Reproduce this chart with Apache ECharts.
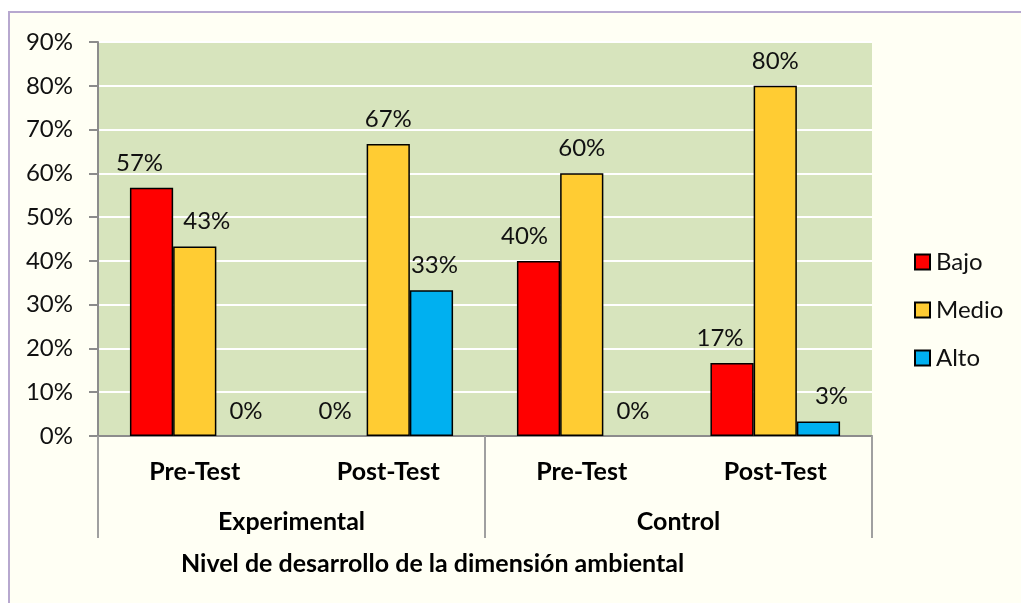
<!DOCTYPE html>
<html>
<head>
<meta charset="utf-8">
<script src="https://cdn.jsdelivr.net/npm/echarts@6/dist/echarts.min.js"></script>
<style>
  html, body { margin: 0; padding: 0; background: #fff; }
  #main { width: 1021px; height: 603px; }
</style>
</head>
<body>
<div id="main"></div>
<script>
const tests = ['Pre-Test', 'Post-Test', 'Pre-Test', 'Post-Test']
const groups = ['Experimental', 'Control']
const bajo = [56.7, 0, 40, 16.7]
const medio = [43.3, 66.7, 60, 80]
const alto = [0, 33.3, 0, 3.3]
const names = ['Bajo', 'Medio', 'Alto']
const colors = ['#ff0000', '#ffcc33', '#00b0f0']
// horizontal nudges of the value labels (excel moved some of them)
const labelShift = [
  [-12, -10, -14, -12],
  [12, 0, 0, 0],
  [8, 3, 8, 13]
]

const font = 'Lato, "Open Sans", sans-serif'
const chart = echarts.init(document.getElementById('main'))

const mkSeries = (idx, data) => ({
  name: names[idx],
  type: 'bar',
  data: data.map((v, i) => ({
    value: v,
    itemStyle: v === 0 ? { borderWidth: 0 } : undefined,
    label: { offset: [labelShift[idx][i], 0] }
  })),
  barGap: '0%',
  barCategoryGap: '33%',
  itemStyle: { color: colors[idx], borderColor: '#000', borderWidth: 1.5 },
  label: {
    show: true,
    position: 'top',
    distance: 13,
    color: '#111',
    fontFamily: font,
    fontSize: 24,
    formatter: p => Math.round(p.value) + '%'
  }
})

chart.setOption({
  backgroundColor: '#fff',
  animation: false,
  graphic: [{
    type: 'rect',
    shape: { x: 9, y: 12, width: 1040, height: 620 },
    style: { fill: '#fffff4', stroke: '#b7a8cf', lineWidth: 2 },
    z: -10
  }],
  title: {
    text: 'Nivel de desarrollo de la dimensión ambiental',
    left: 176,
    top: 546,
    textStyle: { fontFamily: font, fontSize: 25, fontWeight: 'bold', color: '#000' }
  },
  legend: {
    orient: 'vertical',
    left: 914,
    top: 250,
    padding: 0,
    itemWidth: 15,
    itemHeight: 15,
    itemGap: 24,
    icon: 'rect',
    textStyle: { fontFamily: font, fontSize: 24, color: '#111', padding: [0, 0, 0, 1] },
    data: names
  },
  grid: {
    left: 98, right: 149, top: 42, bottom: 167,
    show: true, backgroundColor: '#d7e4bd', borderWidth: 0
  },
  xAxis: [{
    type: 'category',
    data: tests,
    position: 'bottom',
    axisLine: { lineStyle: { color: '#8c8c8c', width: 2 } },
    axisTick: { length: 51, lineStyle: { color: '#a0a0a0', width: 2 } },
    axisLabel: { margin: 23, fontFamily: font, fontSize: 25, fontWeight: 'bold', color: '#000' }
  }, {
    type: 'category',
    data: groups,
    position: 'bottom',
    axisLine: { show: false },
    axisTick: { show: true, length: 102, lineStyle: { color: '#a0a0a0', width: 2 } },
    axisLabel: { margin: 73, fontFamily: font, fontSize: 25, fontWeight: 'bold', color: '#000' }
  }],
  yAxis: {
    type: 'value',
    min: 0,
    max: 90,
    interval: 10,
    axisLine: { show: true, lineStyle: { color: '#8c8c8c', width: 2 } },
    axisTick: { show: true, length: 9, lineStyle: { color: '#8c8c8c', width: 2 } },
    axisLabel: { margin: 25, fontFamily: font, fontSize: 24, color: '#111', formatter: '{value}%' },
    splitLine: { lineStyle: { color: '#ffffff', width: 2 } }
  },
  series: [
    mkSeries(0, bajo),
    mkSeries(1, medio),
    mkSeries(2, alto)
  ]
})
</script>
</body>
</html>
